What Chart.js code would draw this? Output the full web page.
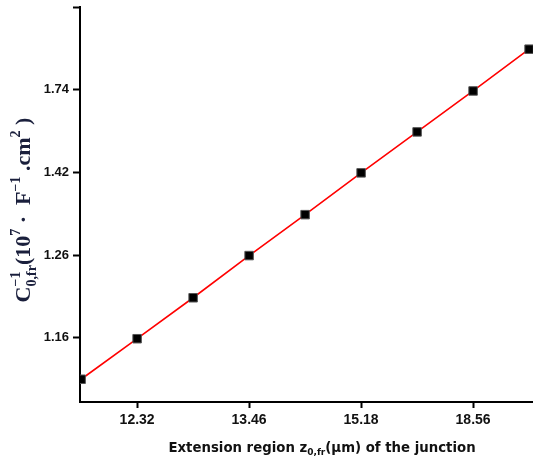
<!DOCTYPE html>
<html>
<head>
<meta charset="utf-8">
<script src="https://cdn.jsdelivr.net/npm/chart.js@4/dist/chart.umd.min.js"></script>
<style>
  html, body { margin: 0; padding: 0; background: #fff; }
  canvas { display: block; }
</style>
</head>
<body>
<canvas id="c" width="533" height="461"></canvas>
<script>
// tick labels as printed on the figure
const zTicks = ['12.32', '13.46', '15.18', '18.56'];
const cTicks = ['1.16', '1.26', '1.42', '1.74', ''];
// where those ticks sit, in axis units (one unit = spacing between two markers)
const zTickPos = [1, 3, 5, 7];
const cTickPos = [1, 3, 5, 7, 9];
// measured marker positions, same units
const zPoints = [0, 1, 2, 3, 4, 5, 6, 7, 8];
const cPoints = [0, 0.98, 1.97, 2.99, 3.98, 4.99, 5.98, 6.97, 7.98];

const SANS = '"Liberation Sans", Arial, sans-serif';
const WIDE = '"DejaVu Sans", Verdana, sans-serif';
const SERIF = '"Liberation Serif", "Times New Roman", serif';

// draws a run of [text, mode] pieces; mode: n, sup, sub, supk (sup that does not advance)
function richWidth(ctx, parts, big, small, fam) {
  let w = 0, held = 0;
  parts.forEach(([t, m]) => {
    ctx.font = 'bold ' + (m === 'n' ? big : small) + 'px ' + fam;
    const tw = ctx.measureText(t).width;
    if (m === 'supk') { held = tw; return; }
    w += Math.max(tw, held); held = 0;
  });
  return w;
}
function drawRich(ctx, parts, x, y, big, small, fam) {
  let held = 0;
  parts.forEach(([t, m]) => {
    ctx.font = 'bold ' + (m === 'n' ? big : small) + 'px ' + fam;
    const tw = ctx.measureText(t).width;
    let dy = 0;
    if (m === 'sup' || m === 'supk') dy = -big * 0.45;
    if (m === 'sub') dy = big * 0.25;
    ctx.fillText(t, x, y + dy);
    if (m === 'supk') { held = tw; return; }
    x += Math.max(tw, held); held = 0;
  });
}

const axisTitles = {
  id: 'axisTitles',
  afterDraw(chart) {
    const ctx = chart.ctx;
    ctx.save();
    ctx.textBaseline = 'alphabetic';
    ctx.textAlign = 'left';
    // x title
    ctx.fillStyle = '#111';
    const xp = [['Extension region z', 'n'], ['0,fr', 'sub'], ['(\u00b5m) of the junction', 'n']];
    const xw = richWidth(ctx, xp, 13.3, 9, WIDE);
    drawRich(ctx, xp, 322 - xw / 2, 452, 13.3, 9, WIDE);
    // y title, rotated
    ctx.fillStyle = '#1a1f3c';
    ctx.translate(30, 210);
    ctx.rotate(-Math.PI / 2);
    const yp = [['C', 'n'], ['\u22121', 'supk'], ['0,fr', 'sub'], ['(10', 'n'], ['7', 'sup'],
      [' \u00b7  F', 'n'], ['\u22121', 'sup'], [' .cm', 'n'], ['2', 'sup'], [' )', 'n']];
    const yw = richWidth(ctx, yp, 22, 14, SERIF);
    drawRich(ctx, yp, -yw / 2, 0, 22, 14, SERIF);
    ctx.restore();
  }
};

new Chart(document.getElementById('c').getContext('2d'), {
  type: 'line',
  data: {
    datasets: [{
      data: zPoints.map((z, i) => ({ x: z, y: cPoints[i] })),
      borderColor: '#ff0000',
      borderWidth: 1.6,
      tension: 0,
      pointStyle: 'rect',
      pointRadius: 6,
      pointBackgroundColor: '#000',
      pointBorderColor: '#555',
      pointBorderWidth: 1
    }]
  },
  options: {
    responsive: false,
    animation: false,
    devicePixelRatio: 1,
    layout: { autoPadding: false, padding: { top: 7, right: 0, left: 0, bottom: 0 } },
    plugins: { legend: { display: false }, tooltip: { enabled: false } },
    scales: {
      x: {
        type: 'linear',
        min: -0.02,
        max: 8.07,
        afterBuildTicks: s => { s.ticks = zTickPos.map(v => ({ value: v })); },
        afterFit: s => { s.height = 59; s.paddingLeft = 0; s.paddingRight = 0; },
        ticks: { callback: (v, i) => zTicks[i], font: { family: SANS, size: 14, weight: 'bold' }, color: '#111', padding: 4, maxRotation: 0, autoSkip: false },
        grid: { drawOnChartArea: false, tickLength: 6, tickWidth: 2, tickColor: '#000' },
        border: { width: 2, color: '#000' }
      },
      y: {
        type: 'linear',
        min: -0.55,
        max: 9,
        afterBuildTicks: s => { s.ticks = cTickPos.map(v => ({ value: v })); },
        afterFit: s => { s.width = 80; s.paddingTop = 0; s.paddingBottom = 0; },
        ticks: { callback: (v, i) => cTicks[i], font: { family: SANS, size: 13, weight: 'bold' }, color: '#111', padding: 4, autoSkip: false },
        grid: { drawOnChartArea: false, tickLength: 7, tickWidth: 2, tickColor: '#000' },
        border: { width: 2, color: '#000' }
      }
    }
  },
  plugins: [axisTitles]
});
</script>
</body>
</html>
